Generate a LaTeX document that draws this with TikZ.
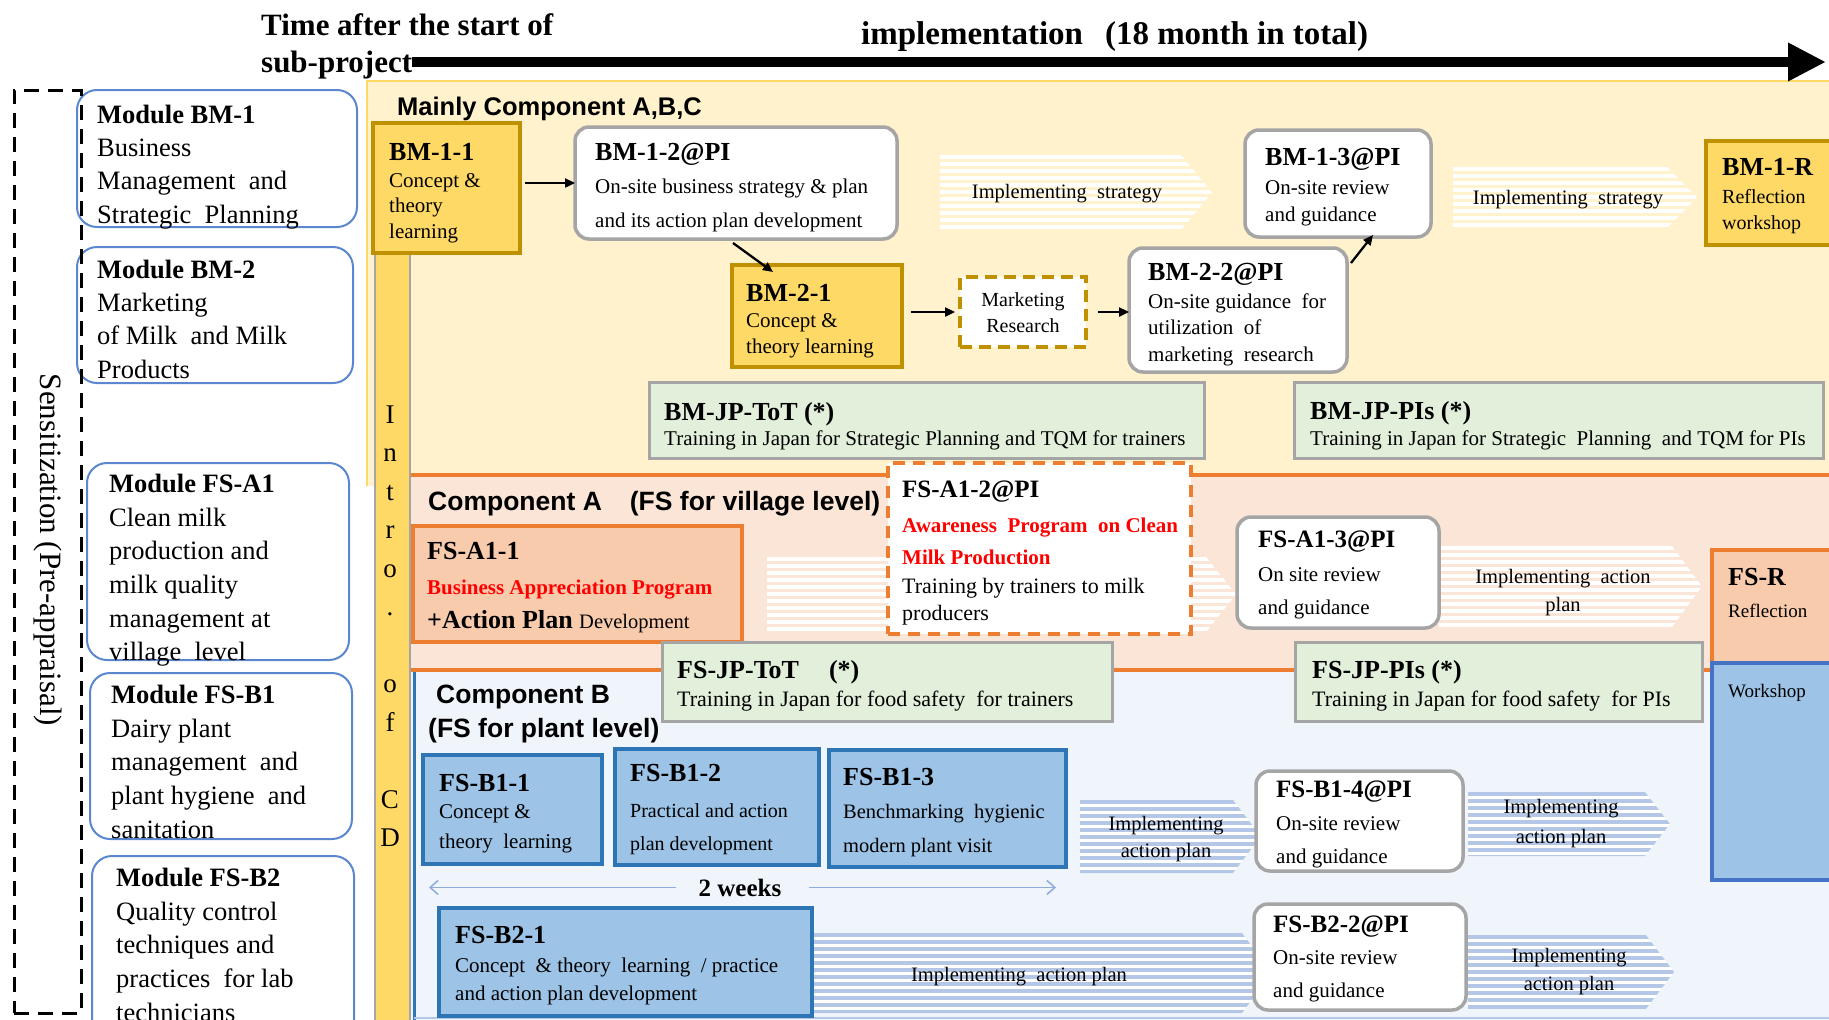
\documentclass[tikz,border=0pt]{standalone}
\usepackage{fontspec}
\setmainfont{Liberation Serif}
\newfontfamily\sansf{Liberation Sans}
\usetikzlibrary{arrows.meta,calc}

\definecolor{ylwbg}{HTML}{FFF2CC}
\definecolor{ylwline}{HTML}{FFD966}
\definecolor{goldf}{HTML}{FFD966}
\definecolor{goldd}{HTML}{BF9000}
\definecolor{peach}{HTML}{FBE5D6}
\definecolor{orng}{HTML}{ED7D31}
\definecolor{salmon}{HTML}{F8CBAD}
\definecolor{bluebg}{HTML}{F0F5FB}
\definecolor{bluebox}{HTML}{9DC3E6}
\definecolor{blued}{HTML}{2E75B6}
\definecolor{bluem}{HTML}{4472C4}
\definecolor{greenbox}{HTML}{E2EFDA}
\definecolor{greyb}{HTML}{A5A5A5}
\definecolor{stripeblue}{HTML}{B4C7E7}
\definecolor{modblue}{HTML}{5B87CF}
\definecolor{wkline}{HTML}{8FAADC}
\definecolor{redt}{HTML}{FF0000}

\newcommand\fs[2]{\fontsize{#1}{#2}\selectfont}
\newcommand\tp{\rule{0pt}{20pt}}

% box from top-left (#3,#4) to bottom-right (#5,#6)
\newcommand\bx[6]{\node[#1, anchor=north west, minimum width={(#5-#3)*1pt}, minimum height={(#6-#4)*1pt}] (#2) at (#3,#4) {};}

% striped arrow band: x1 y1 x2 y2 tip linecolour fillcolour
\newcommand\stripes[7]{%
  \begin{scope}
    \clip (#1,#2) -- ({#3-#5},#2) -- (#3,{(#2+#4)/2}) -- ({#3-#5},#4) -- (#1,#4) -- cycle;
    \fill[#7] (#1,#2) rectangle (#3,#4);
    \pgfmathtruncatemacro\nst{(#4-#2)/7}
    \foreach \i in {0,...,\nst}
      \draw[#6, line width=3.5pt] (#1,{#2+2+\i*7}) -- (#3,{#2+2+\i*7});
  \end{scope}}

\tikzset{
  box/.style={inner sep=0pt, outer sep=0pt, line width=3.5pt},
  goldbox/.style={box, fill=goldf, draw=goldd},
  pibox/.style={box, fill=white, draw=greyb, rounded corners=14pt},
  grnbox/.style={box, fill=greenbox, draw=greyb, line width=3pt},
  salbox/.style={box, fill=salmon, draw=orng},
  dashbox/.style={box, fill=white, draw=orng, dash pattern=on 12pt off 8pt},
  mrbox/.style={box, fill=white, draw=goldd, line width=4pt, dash pattern=on 12pt off 7pt},
  bluebx/.style={box, fill=bluebox, draw=blued},
  wsbox/.style={box, fill=bluebox, draw=bluem},
  modbox/.style={box, fill=white, draw=modblue, line width=2pt, rounded corners=20pt},
  sensbox/.style={box, draw=black, line width=3pt, dash pattern=on 15pt off 9pt},
  cdbox/.style={box, fill=goldf, draw=greyb, line width=1.5pt},
  ttl/.style={anchor=base west, inner sep=0pt, font=\bfseries\fs{26}{30}},
  bdy/.style={anchor=north west, inner sep=0pt, align=left},
  one/.style={anchor=base west, inner sep=0pt},
  band/.style={anchor=base west, inner sep=0pt, font=\sansf\bfseries\fs{26}{32}},
  stt/.style={anchor=base, inner sep=0pt, font=\fs{20.5}{25}},
  sttm/.style={anchor=north, inner sep=0pt, align=center},
  modt/.style={anchor=base west, inner sep=0pt, font=\bfseries\fs{26.5}{33.6}},
  modb/.style={anchor=north west, inner sep=0pt, align=left, font=\fs{26.5}{33.6}},
  arr/.style={line width=2.3pt, -{Triangle[length=10pt,width=9pt]}},
  wkarr/.style={draw=wkline, line width=1.5pt, -{Straight Barb[length=8pt,width=14pt]}},
}

\begin{document}
\begin{tikzpicture}[x=1pt,y=-1pt]
\useasboundingbox (0,0) rectangle (1829,1020);
\fill[white] (0,0) rectangle (1829,1020);

% ---- component bands ----
\fill[ylwbg] (367,81) rectangle (1829,486);
\draw[ylwline, line width=2.5pt] (367,486) -- (367,81) -- (1829,81);
\fill[peach] (410,475) rectangle (1829,671);
\fill[bluebg] (410,671) rectangle (1829,1020);
\draw[orng, line width=3.5pt] (410,475) -- (1829,475);
\draw[orng, line width=3.5pt] (410,670) -- (1829,670);
\draw[blued, line width=3pt] (414,672) -- (414,1020);
\draw[stripeblue, line width=2pt] (414,1018) -- (1829,1018);

% ---- introduction strip ----
\bx{cdbox}{cd}{375}{123}{410}{1030}
\node[anchor=north, inner sep=0pt, align=center, font=\fs{27}{38.5}] (cdt) at (390,403)
  {\tp I\\n\\t\\r\\o\\.\\\mbox{}\\o\\f\\\mbox{}\\C\\D};

% ---- band labels ----
\node[band, font=\sansf\bfseries\fs{25.5}{32}] (cmain) at (397,115) {Mainly Component A,B,C};
\node[band, font=\sansf\bfseries\fs{26.5}{32}] (ca) at (428,510) {Component A\hspace{28pt}(FS for village level)};
\node[band, font=\sansf\bfseries\fs{26.5}{32}] (cb1) at (436,703) {Component B};
\node[band, font=\sansf\bfseries\fs{26.5}{32}] (cb2) at (428,737) {(FS for plant level)};

% ---- striped implementation bands ----
\stripes{940}{155}{1212}{230}{31}{white}{ylwbg}
\stripes{1453}{167}{1697}{228}{30}{white}{ylwbg}
\stripes{767}{557}{1236}{632}{30}{white}{peach}
\stripes{1439}{546}{1702}{627}{30}{white}{peach}
\stripes{1080}{800}{1261}{873}{28}{stripeblue}{white}
\stripes{1468}{792}{1670}{856}{25}{stripeblue}{white}
\stripes{813}{933}{1272}{1013}{30}{stripeblue}{white}
\stripes{1468}{935}{1674}{1009}{28}{stripeblue}{white}

\node[stt] (s1t) at (1067,198) {Implementing\ \ strategy};
\node[stt] (s2t) at (1568,204) {Implementing\ \ strategy};
\node[sttm, font=\fs{20.5}{28}] (sa2t) at (1563,563) {\tp Implementing\ \ action\\plan};
\node[sttm, font=\fs{20.5}{27}] (sb1t) at (1166,810) {\tp Implementing\\action plan};
\node[sttm, font=\fs{20.5}{30}] (sb1bt) at (1561,793) {\tp Implementing\\action plan};
\node[stt] (sb2t) at (1019,981) {Implementing\ \ action plan};
\node[sttm, font=\fs{20.5}{28}] (sb2bt) at (1569,942) {\tp Implementing\\action plan};

% ---- activity boxes ----
\bx{goldbox}{bm11}{373}{123}{520}{253}
\bx{pibox}{bm12}{575}{127}{897}{239}
\bx{pibox}{bm13}{1245}{130}{1431}{237}
\bx{goldbox}{bm1r}{1706}{141}{1845}{245}
\bx{goldbox}{bm21}{732}{265}{902}{367}
\bx{mrbox}{mr}{960}{277}{1086}{347}
\bx{pibox}{bm22}{1129}{248}{1347}{372}
\bx{grnbox}{bmjt}{649}{382}{1204}{458}
\bx{grnbox}{bmjp}{1294}{382}{1823}{458}
\bx{salbox}{fsa11}{413}{526}{742}{642}
\bx{dashbox}{fsa12}{888}{463}{1191}{634}
\bx{pibox}{fsa13}{1237}{517}{1439}{628}
\bx{salbox}{fsr}{1712}{550}{1845}{663}
\bx{wsbox}{ws}{1712}{663}{1845}{880}
\bx{grnbox}{fsjt}{662}{642}{1112}{721}
\bx{grnbox}{fsjp}{1295}{642}{1702}{721}
\bx{bluebx}{b11}{423}{755}{602}{864}
\bx{bluebx}{b12}{615}{749}{819}{865}
\bx{bluebx}{b13}{829}{750}{1066}{867}
\bx{pibox}{b14}{1256}{771}{1463}{871}
\bx{bluebx}{b21}{439}{908}{812}{1016}
\bx{pibox}{b22}{1254}{904}{1466}{1010}

% ---- box texts ----
\node[ttl] (bm11t) at (389,160) {BM-1-1};
\node[bdy, font=\fs{21}{25.5}] (bm11b) at (389,167) {\tp Concept \&\\theory\\learning};
\node[ttl] (bm12t) at (595,160) {BM-1-2@PI};
\node[bdy, font=\fs{21}{34}] (bm12b) at (595,173) {\tp On-site business strategy \& plan\\and its action plan development};
\node[ttl] (bm13t) at (1265,165) {BM-1-3@PI};
\node[bdy, font=\fs{21}{27}] (bm13b) at (1265,174) {\tp On-site review\\and guidance};
\node[ttl] (bm1rt) at (1722,175) {BM-1-R};
\node[bdy, font=\fs{20}{26}] (bm1rb) at (1722,183) {\tp Reflection\\workshop};
\node[ttl] (bm21t) at (746,301) {BM-2-1};
\node[bdy, font=\fs{21}{26}] (bm21b) at (746,307) {\tp Concept \&\\theory learning};
\node[sttm, font=\fs{20}{26}] (mrt) at (1023,286) {\tp Marketing\\Research};
\node[ttl] (bm22t) at (1148,280) {BM-2-2@PI};
\node[bdy, font=\fs{21}{26.5}] (bm22b) at (1148,288) {\tp On-site guidance\ \ for\\utilization\ \ of\\marketing\ \ research};
\node[ttl] (bmjtt) at (664,420) {BM-JP-ToT (*)};
\node[one, font=\fs{21}{25}] (bmjtb) at (664,445) {Training in Japan for Strategic Planning and TQM for trainers};
\node[ttl] (bmjpt) at (1310,419) {BM-JP-PIs (*)};
\node[one, font=\fs{21}{25}] (bmjpb) at (1310,445) {Training in Japan for Strategic\ \ Planning\ \ and TQM for PIs};

\node[ttl] (fsa11t) at (427,559) {FS-A1-1};
\node[one, font=\bfseries\fs{21}{25}, text=redt] (fsa11r) at (427,594) {Business Appreciation Program};
\node[one] (fsa11a) at (427,628) {\bfseries\fs{26}{30}+Action Plan \mdseries\fs{20.5}{25}Development};
\node[ttl, font=\bfseries\fs{25}{30}] (fsa12t) at (902,497) {FS-A1-2@PI};
\node[bdy, font=\bfseries\fs{21}{32}, text=redt] (fsa12r) at (902,512) {\tp Awareness\ \ Program\ \ on Clean\\Milk Production};
\node[bdy, font=\fs{22}{27}] (fsa12b) at (902,573) {\tp Training by trainers to milk\\producers};
\node[ttl, font=\bfseries\fs{25}{30}] (fsa13t) at (1258,547) {FS-A1-3@PI};
\node[bdy, font=\fs{21}{33}] (fsa13b) at (1258,561) {\tp On site review\\and guidance};
\node[ttl] (fsrt) at (1728,585) {FS-R};
\node[one, font=\fs{19}{23}] (fsrb) at (1728,617) {Reflection};
\node[one, font=\fs{19}{23}] (wst) at (1728,697) {Workshop};
\node[ttl] (fsjtt) at (677,678) {FS-JP-ToT\hspace{30pt}(*)};
\node[one, font=\fs{22}{25}] (fsjtb) at (677,706) {Training in Japan for food safety\ \ for trainers};
\node[ttl] (fsjpt) at (1312,678) {FS-JP-PIs (*)};
\node[one, font=\fs{22}{25}] (fsjpb) at (1312,706) {Training in Japan for food safety\ \ for PIs};

\node[ttl] (b11t) at (439,791) {FS-B1-1};
\node[bdy, font=\fs{21}{30}] (b11b) at (439,798) {\tp Concept \&\\theory\ \ learning};
\node[ttl] (b12t) at (630,781) {FS-B1-2};
\node[bdy, font=\fs{20}{33}] (b12b) at (630,797) {\tp Practical and action\\plan development};
\node[ttl] (b13t) at (843,785) {FS-B1-3};
\node[bdy, font=\fs{20.5}{34}] (b13b) at (843,798) {\tp Benchmarking\ \ hygienic\\modern plant visit};
\node[ttl, font=\bfseries\fs{25}{30}] (b14t) at (1276,797) {FS-B1-4@PI};
\node[bdy, font=\fs{21}{33}] (b14b) at (1276,810) {\tp On-site review\\and guidance};
\node[ttl] (b21t) at (455,943) {FS-B2-1};
\node[bdy, font=\fs{21}{28}] (b21b) at (455,952) {\tp Concept\ \ \& theory\ \ learning\ \ / practice\\and action plan development};
\node[ttl, font=\bfseries\fs{25}{30}] (b22t) at (1273,932) {FS-B2-2@PI};
\node[bdy, font=\fs{21}{33}] (b22b) at (1273,944) {\tp On-site review\\and guidance};

% ---- connectors ----
\draw[arr, shorten <=5pt] (bm11.east |- bm12.west) -- (bm12.west);
\draw[arr] ([shift={(-3,4)}]bm12.south) -- ([shift={(41,7)}]bm21.north west);
\draw[arr, shorten <=9pt, shorten >=5pt] (bm21.east |- mr.west) -- (mr.west);
\draw[arr, shorten <=12pt] (mr.east) -- (mr.east -| bm22.west);
\draw[arr] ([shift={(4,15)}]bm22.north east) -- ([shift={(128,-2)}]bm13.south west);

% ---- two-week span ----
\node[anchor=base, inner sep=0pt, font=\bfseries\fs{25}{30}] (wk) at (740,896) {2 weeks};
\coordinate (wkL) at (429,0);
\coordinate (wkR) at (1056,0);
\draw[wkarr] ([xshift=-22pt]wk.west) -- (wk.west -| wkL);
\draw[wkarr] ([xshift=27pt]wk.east) -- (wk.east -| wkR);

% ---- modules ----
\bx{modbox}{m1}{77}{90}{357}{227}
\bx{modbox}{m2}{77}{247}{353}{383}
\bx{modbox}{m3}{87}{463}{349}{660}
\bx{modbox}{m4}{90}{673}{352}{839}
\bx{modbox}{m5}{92}{856}{354}{1040}
\node[modt] (m1t) at (97,123) {Module BM-1};
\node[modb] (m1b) at (97,136) {\tp Business\\Management\ \ and\\Strategic\ \ Planning};
\node[modt] (m2t) at (97,278) {Module BM-2};
\node[modb] (m2b) at (97,291) {\tp Marketing\\of Milk\ \ and Milk\\Products};
\node[modt] (m3t) at (109,492) {Module FS-A1};
\node[modb] (m3b) at (109,506) {\tp Clean milk\\production and\\milk quality\\management at\\village\ \ level};
\node[modt] (m4t) at (111,703) {Module FS-B1};
\node[modb] (m4b) at (111,717) {\tp Dairy plant\\management\ \ and\\plant hygiene\ \ and\\sanitation};
\node[modt] (m5t) at (116,886) {Module FS-B2};
\node[modb] (m5b) at (116,900) {\tp Quality control\\techniques and\\practices\ \ for lab\\technicians};

\bx{sensbox}{sens}{14}{90}{81}{1013}
\node[rotate=-90, inner sep=0pt, font=\fs{31}{36}] (senst) at (48,550) {Sensitization (Pre-appraisal)};

% ---- time axis ----
\node[one, font=\bfseries\fs{31}{36}] (hd1) at (261,35) {Time after the start of};
\node[one, font=\bfseries\fs{31}{36}] (sub) at (261,72) {sub-project};
\node[one, font=\bfseries\fs{33}{38}] (hd2) at (861,44) {implementation\hspace{22pt}(18 month in total)};
\coordinate (t1) at (1826,62);
\draw[line width=10pt, -{Triangle[length=38pt,width=36pt]}] (sub.east |- t1) -- (t1);
\end{tikzpicture}
\end{document}
